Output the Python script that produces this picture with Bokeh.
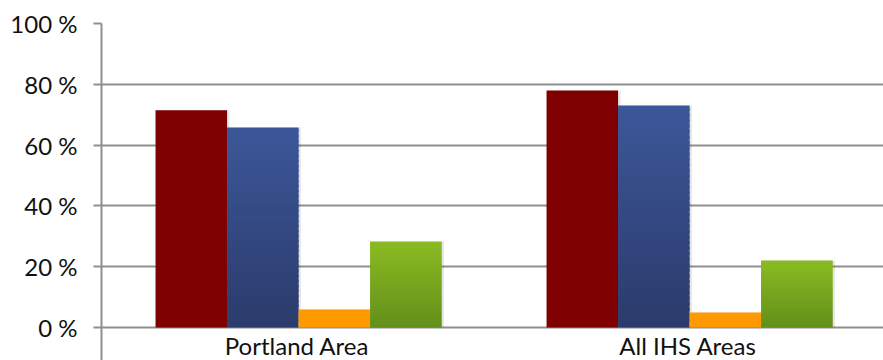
from bokeh.plotting import figure
from bokeh.models import Range1d, FactorRange, FixedTicker, ColumnDataSource
from bokeh.transform import dodge
from bokeh.core.properties import value
from bokeh.embed import file_html
from bokeh.resources import INLINE

# ---- data ----
categories = ["Portland Area", "All IHS Areas"]
series_red = [71.5, 78.0]
series_blue = [65.8, 73.0]
series_orange = [5.9, 4.9]
series_green = [28.3, 22.0]
y_ticks = [0, 20, 40, 60, 80, 100]
y_tick_labels = ["0 %", "20 %", "40 %", "60 %", "80 %", "100 %"]

# ---- style ----
FONT = "Lato"
FONT_SIZE = "24px"
GRID = "#8f8f8f"
BAR_W = 0.1829
SHIFT = 0.004
offsets = [SHIFT + f * BAR_W for f in (-1.5, -0.5, 0.5, 1.5)]
# (bottom colour, top colour) for each series
colors = [("#7f0000", "#7f0000"), ("#2b3b6b", "#3c5799"),
          ("#ff9900", "#ff9900"), ("#628f1a", "#8bbb22")]
series = [series_red, series_blue, series_orange, series_green]

p = figure(width=883, height=360, x_range=FactorRange(factors=categories, range_padding=0),
           y_range=Range1d(-10.86, 100), output_backend="svg", toolbar_location=None,
           min_border_left=101, min_border_right=0, min_border_top=23, min_border_bottom=0)
p.outline_line_color = None
p.background_fill_color = "white"
p.xaxis.visible = False
p.xgrid.visible = False

p.ygrid.ticker = FixedTicker(ticks=y_ticks)
p.ygrid.grid_line_color = GRID
p.ygrid.grid_line_width = 2

ya = p.yaxis[0]
ya.ticker = FixedTicker(ticks=y_ticks)
ya.major_label_overrides = {t: l for t, l in zip(y_ticks, y_tick_labels)}
ya.axis_line_color = GRID
ya.axis_line_width = 2
ya.major_tick_line_color = GRID
ya.major_tick_line_width = 2
ya.major_tick_out = 8
ya.major_tick_in = 0
ya.minor_tick_line_color = None
ya.major_label_standoff = 16
ya.major_label_text_font = FONT
ya.major_label_text_font_size = FONT_SIZE
ya.major_label_text_color = "#111111"


def mix(c1, c2, t):
    a = [int(c1[i:i + 2], 16) for i in (1, 3, 5)]
    b = [int(c2[i:i + 2], 16) for i in (1, 3, 5)]
    return "#" + "".join("%02x" % round(a[k] + (b[k] - a[k]) * t) for k in range(3))


# soft shadows to the right of each bar
for vals, off in zip(series, offsets):
    src = ColumnDataSource(dict(x=categories, top=vals))
    p.vbar(x=dodge("x", off + 0.006, range=p.x_range), top="top", bottom=0, width=BAR_W,
           source=src, fill_color="black", fill_alpha=0.10, line_color=None)

# bars; gradients made of overlapping thin slices
N = 40
for vals, off, (cb, ct) in zip(series, offsets, colors):
    if cb == ct:
        src = ColumnDataSource(dict(x=categories, top=vals))
        p.vbar(x=dodge("x", off, range=p.x_range), bottom=0, top="top", width=BAR_W,
               source=src, fill_color=cb, line_color=None)
        continue
    xs, bots, tops, cols = [], [], [], []
    for cat, v in zip(categories, vals):
        for k in range(N):
            xs.append(cat)
            bots.append(v * k / N)
            tops.append(min(v, v * (k + 1.6) / N))
            cols.append(mix(cb, ct, (k + 0.5) / N))
    src = ColumnDataSource(dict(x=xs, bottom=bots, top=tops, c=cols))
    p.vbar(x=dodge("x", off, range=p.x_range), bottom="bottom", top="top", width=BAR_W,
           source=src, fill_color="c", line_color=None)

# category labels
p.text(x=categories, y=[-5.9] * len(categories), text=categories, text_align="center",
       text_baseline="middle", text_font=value(FONT), text_font_size=FONT_SIZE,
       text_color="#111111")

open("out.html", "w").write(file_html(p, INLINE))
